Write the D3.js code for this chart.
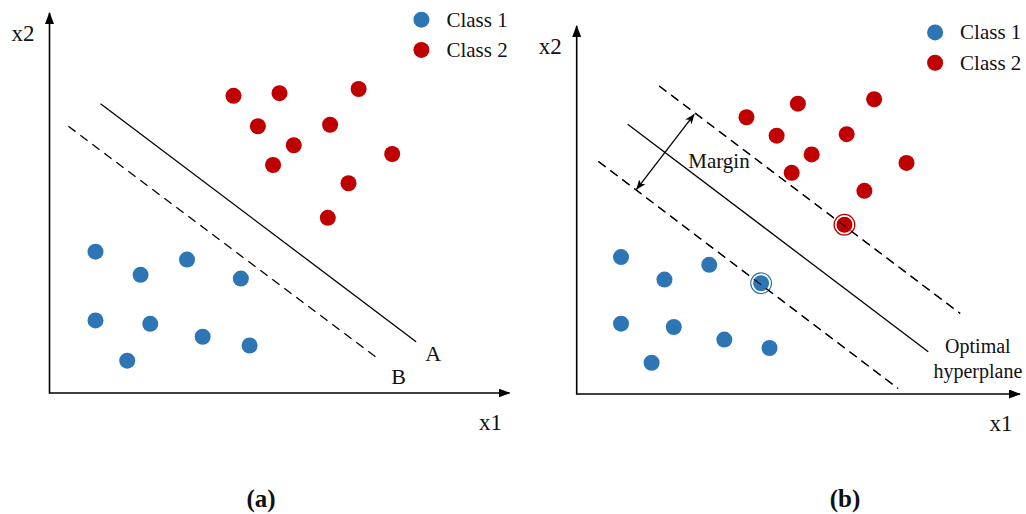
<!DOCTYPE html>
<html>
<head>
<meta charset="utf-8">
<script src="https://cdn.jsdelivr.net/npm/d3@7"></script>
<style>
  html, body { margin: 0; padding: 0; background: #fff; }
  text { font-family: "Liberation Serif", "Times New Roman", serif; fill: #111; }
</style>
</head>
<body>
<svg id="chart" width="1026" height="514"></svg>
<script>
// ---- data (0-100 units in each panel) ----
const class1X = [10.0, 29.9, 19.8, 41.6, 10.0, 21.9, 33.3, 43.5, 16.9];
const class1Y = [37.2, 35.1, 31.1, 30.1, 19.1, 18.2, 14.8, 12.5, 8.5];
const class2Xa = [40.0, 50.0, 67.2, 45.3, 61.0, 53.1, 74.5, 48.6, 65.0, 60.5];
const class2Ya = [78.2, 78.9, 80.0, 70.2, 70.6, 65.2, 62.9, 60.0, 55.2, 46.1];
const class2Xb = [38.3, 49.9, 67.1, 45.1, 60.9, 53.0, 74.4, 48.5, 64.9, 60.4];
const class2Yb = [75.2, 78.9, 80.1, 70.2, 70.6, 65.1, 62.8, 60.1, 55.2, 46.0];
const supportClass1 = [3];
const supportClass2 = [9];
const legendLabels = ["Class 1", "Class 2"];
const panelLabels = ["(a)", "(b)"];

// panel (a) separators: A solid, B dashed  [x1, y1, x2, y2]
const lineA = [11.1, 76.1, 79.7, 13.5];
const lineB = [4.1, 70.2, 71.9, 8.6];
// panel (b): margin lines
const upperMargin = [18.6, 83.7, 86.5, 21.9];
const hyperplane = [11.5, 73.3, 79.3, 11.5];
const lowerMargin = [4.9, 63.2, 72.5, 1.5];
const marginArrow = [26.5, 76.0, 13.5, 55.6];

const colors = ["#2e75b6", "#c00000"];

const svg = d3.select("#chart");
const defs = svg.append("defs");
defs.append("marker").attr("id", "axArrow")
  .attr("viewBox", "0 0 12 9").attr("refX", 11).attr("refY", 4.5)
  .attr("markerWidth", 12).attr("markerHeight", 9)
  .attr("markerUnits", "userSpaceOnUse").attr("orient", "auto")
  .append("path").attr("d", "M0,0 L12,4.5 L0,9 Z").attr("fill", "#000");
defs.append("marker").attr("id", "mArrow")
  .attr("viewBox", "0 0 10 8").attr("refX", 9.5).attr("refY", 4)
  .attr("markerWidth", 10).attr("markerHeight", 8)
  .attr("markerUnits", "userSpaceOnUse").attr("orient", "auto-start-reverse")
  .append("path").attr("d", "M0,0 L10,4 L0,8 L2.5,4 Z").attr("fill", "#000");

const panels = [
  { x: d3.scaleLinear([0, 100], [49.5, 509.5]), y: d3.scaleLinear([0, 100], [393, 13]),
    label: panelLabels[0], labelX: 261, c2x: class2Xa, c2y: class2Ya },
  { x: d3.scaleLinear([0, 100], [576.7, 1020]), y: d3.scaleLinear([0, 100], [394, 26]),
    label: panelLabels[1], labelX: 845, c2x: class2Xb, c2y: class2Yb }
];

function seg(g, p, l, dashed, width) {
  return g.append("line")
    .attr("x1", p.x(l[0])).attr("y1", p.y(l[1]))
    .attr("x2", p.x(l[2])).attr("y2", p.y(l[3]))
    .attr("stroke", "#000").attr("stroke-width", width || 1.3)
    .attr("stroke-dasharray", dashed ? "9,6" : null);
}

panels.forEach((p, pi) => {
  const g = svg.append("g");
  // axes
  g.append("line").attr("x1", p.x(0)).attr("y1", p.y(0)).attr("x2", p.x(100)).attr("y2", p.y(0))
    .attr("stroke", "#000").attr("stroke-width", 1.6).attr("marker-end", "url(#axArrow)");
  g.append("line").attr("x1", p.x(0)).attr("y1", p.y(0) + 0.8).attr("x2", p.x(0)).attr("y2", p.y(100))
    .attr("stroke", "#000").attr("stroke-width", 1.6).attr("marker-end", "url(#axArrow)");
  g.append("text").attr("x", p.x(100) - 19).attr("y", p.y(0) + 29).attr("text-anchor", "middle")
    .attr("dy", "0.35em").attr("font-size", 23).text("x1");
  g.append("text").attr("x", p.x(0) - 26.5).attr("y", p.y(100) + 20).attr("text-anchor", "middle")
    .attr("dy", "0.35em").attr("font-size", 23).text("x2");

  // lines
  if (pi === 0) {
    seg(g, p, lineA, false);
    seg(g, p, lineB, true);
    g.append("text").attr("x", p.x(83.4)).attr("y", p.y(10.4)).attr("dy", "0.35em")
      .attr("text-anchor", "middle").attr("font-size", 22).text("A");
    g.append("text").attr("x", p.x(75.9)).attr("y", p.y(4.3)).attr("dy", "0.35em")
      .attr("text-anchor", "middle").attr("font-size", 22).text("B");
  } else {
    seg(g, p, upperMargin, true);
    seg(g, p, hyperplane, false);
    seg(g, p, lowerMargin, true);
    seg(g, p, marginArrow, false, 1.3)
      .attr("marker-start", "url(#mArrow)").attr("marker-end", "url(#mArrow)");
    g.append("text").attr("x", p.x(32.1)).attr("y", p.y(63.3)).attr("dy", "0.35em")
      .attr("text-anchor", "middle").attr("font-size", 21).text("Margin");
    g.append("text").attr("x", p.x(90.5)).attr("y", p.y(13.1)).attr("dy", "0.35em")
      .attr("text-anchor", "middle").attr("font-size", 20).text("Optimal");
    g.append("text").attr("x", p.x(90.5)).attr("y", p.y(6.3)).attr("dy", "0.35em")
      .attr("text-anchor", "middle").attr("font-size", 20).text("hyperplane");
  }

  // points
  const sets = [[class1X, class1Y, supportClass1], [p.c2x, p.c2y, supportClass2]];
  sets.forEach(([xs, ys, sv], ci) => {
    const pts = xs.map((v, i) => ({ x: v, y: ys[i], sv: pi === 1 && sv.includes(i) }));
    g.selectAll(null).data(pts).enter().append("circle")
      .attr("cx", d => p.x(d.x)).attr("cy", d => p.y(d.y))
      .attr("r", 8).attr("fill", colors[ci]);
    g.selectAll(null).data(pts.filter(d => d.sv)).enter().append("circle")
      .attr("cx", d => p.x(d.x)).attr("cy", d => p.y(d.y))
      .attr("r", 10.3).attr("fill", "none").attr("stroke", colors[ci]).attr("stroke-width", 1.3);
    g.selectAll(null).data(pts.filter(d => d.sv)).enter().append("circle")
      .attr("cx", d => p.x(d.x)).attr("cy", d => p.y(d.y))
      .attr("r", 9).attr("fill", "none").attr("stroke", "#fff").attr("stroke-width", 1.1);
  });
  if (pi === 1) {
    seg(g, p, upperMargin, true).attr("stroke-width", 1.1);
    seg(g, p, lowerMargin, true).attr("stroke-width", 1.1);
  }

  // legend
  legendLabels.forEach((t, i) => {
    const cx = p.x(80.85), cy = p.y(98.25) + i * 30.3;
    g.append("circle").attr("cx", cx).attr("cy", cy).attr("r", 8).attr("fill", colors[i]);
    g.append("text").attr("x", cx + 25).attr("y", cy).attr("dy", "0.33em")
      .attr("font-size", 21).text(t);
  });

  // panel label
  svg.append("text").attr("x", p.labelX).attr("y", 498).attr("dy", "0.35em")
    .attr("text-anchor", "middle").attr("font-size", 25).attr("font-weight", "bold")
    .text(p.label);
});
</script>
</body>
</html>
